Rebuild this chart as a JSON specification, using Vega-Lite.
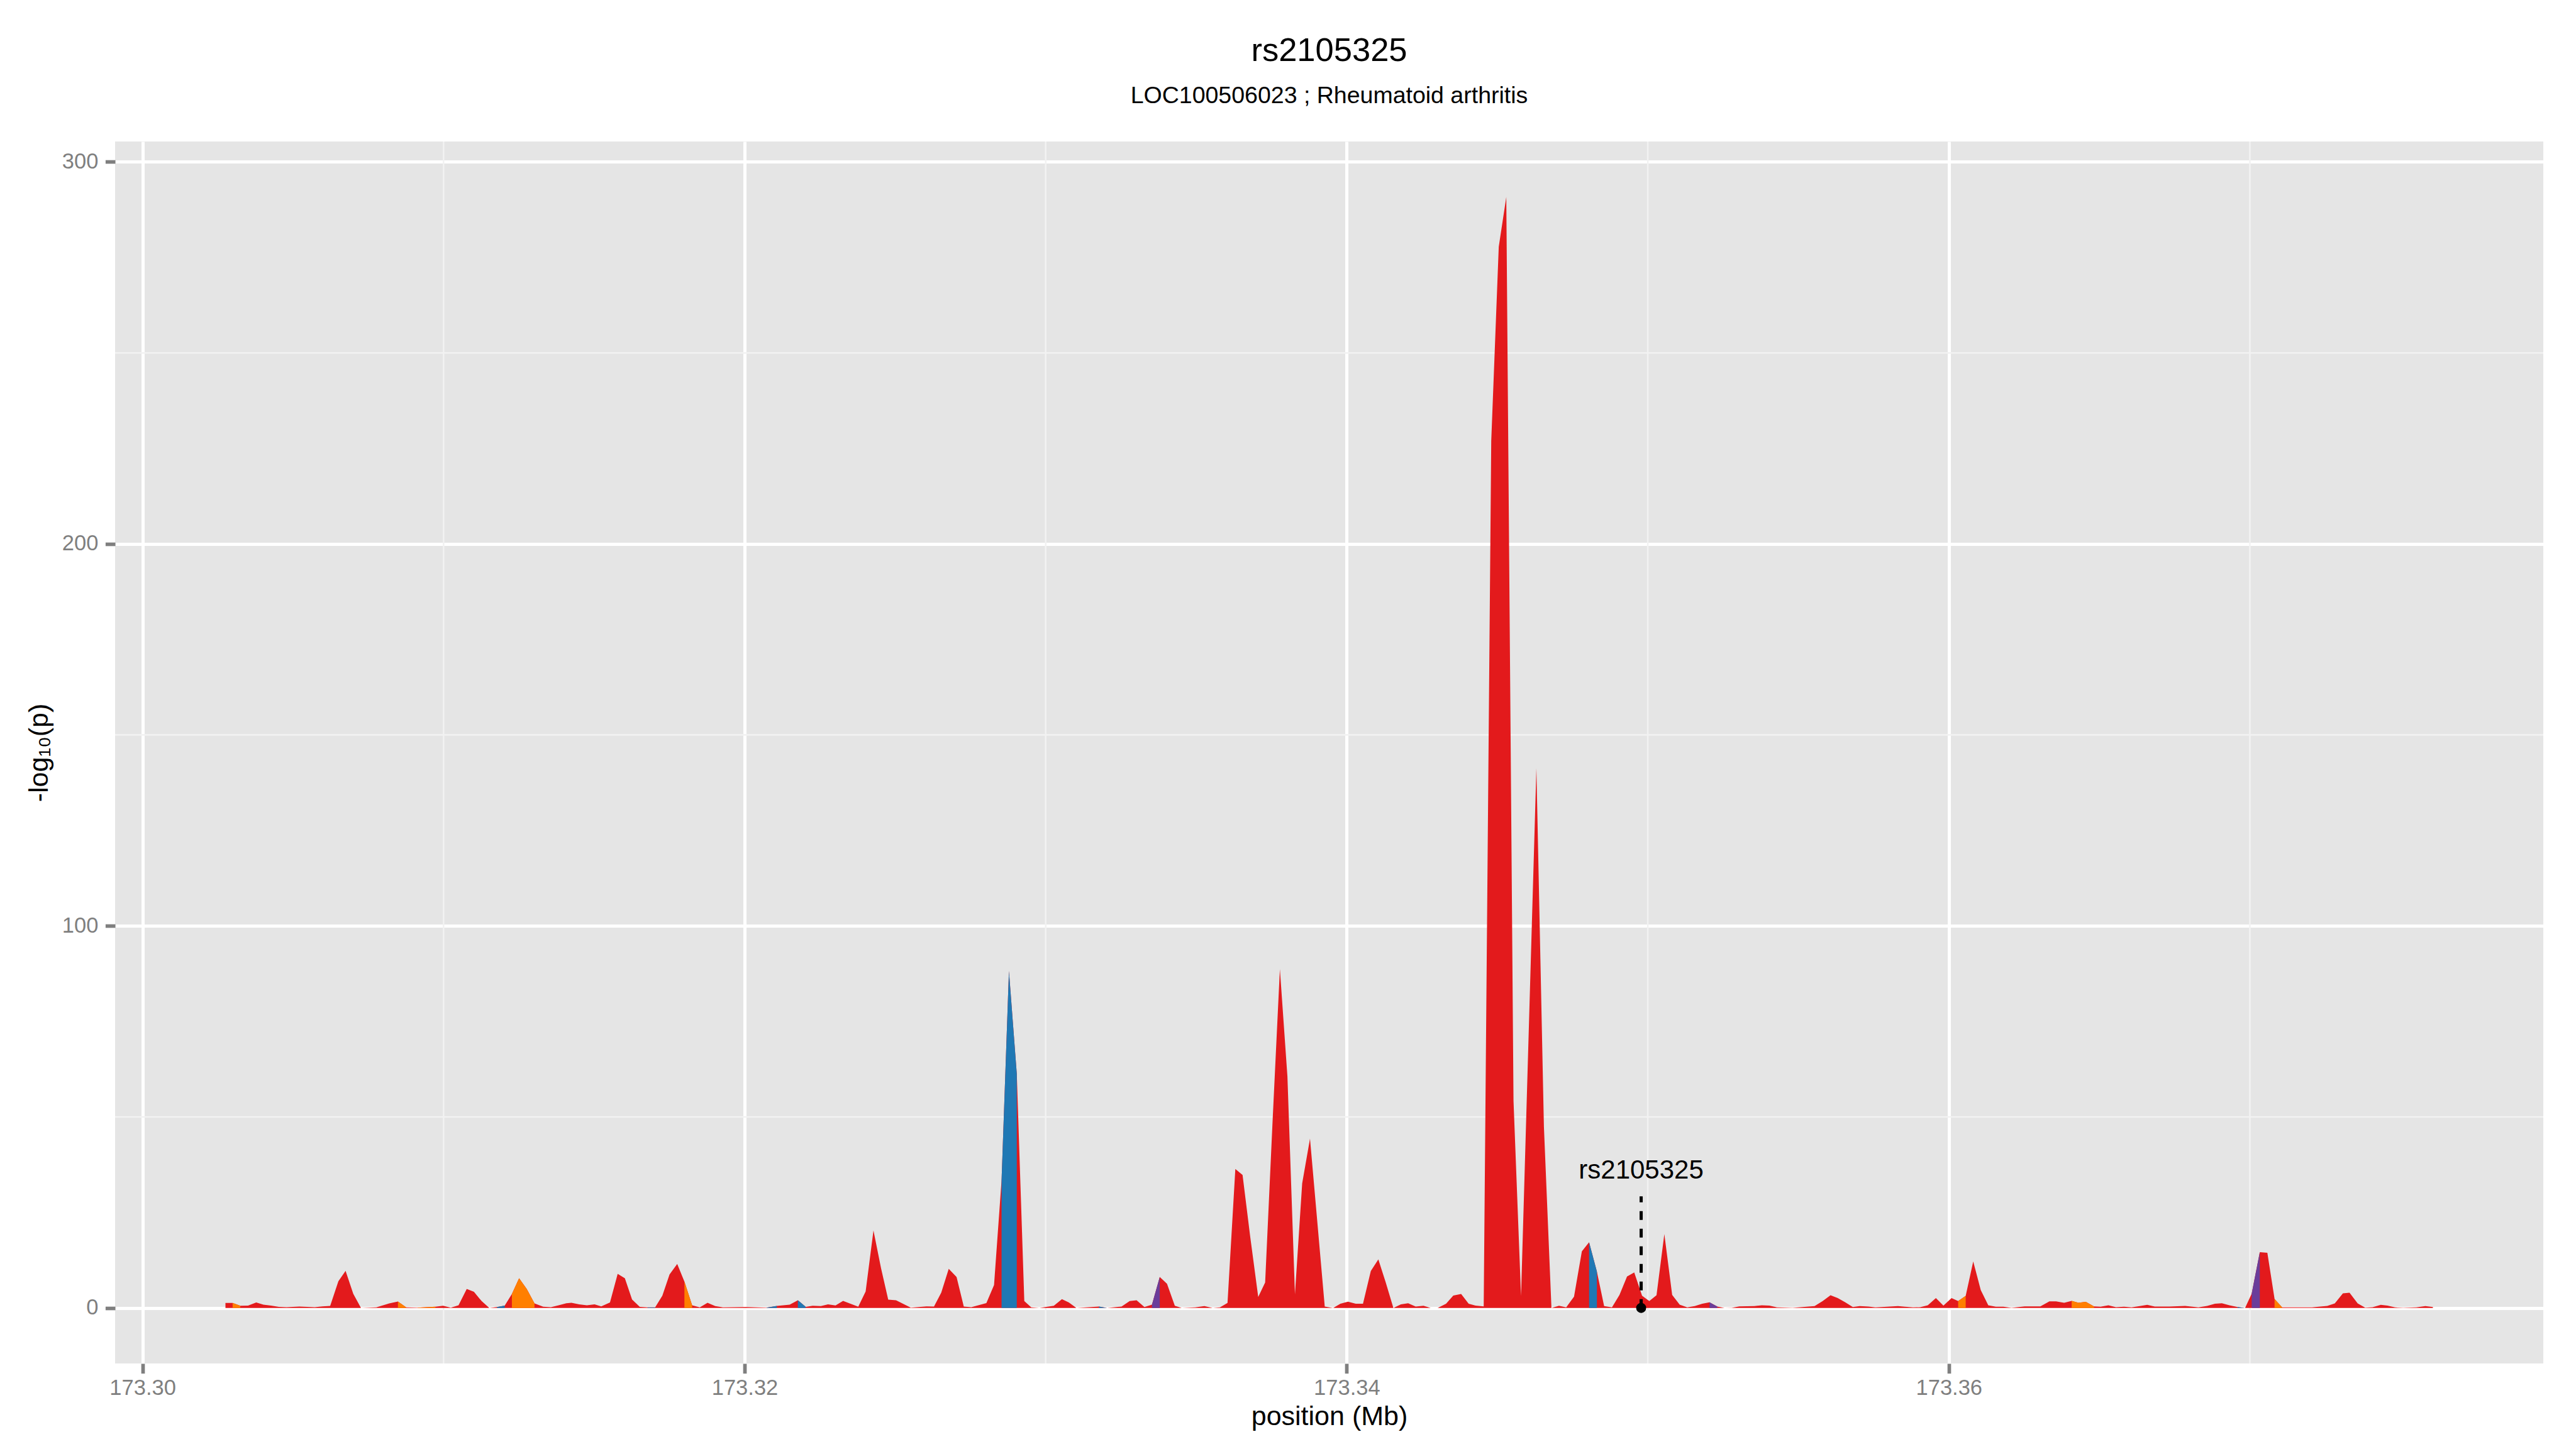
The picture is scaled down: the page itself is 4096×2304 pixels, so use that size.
{
  "$schema": "https://vega.github.io/schema/vega-lite/v6.json",
  "width": 3861,
  "height": 1943,
  "autosize": {"type": "none"},
  "padding": {"left": 183, "top": 225, "right": 52, "bottom": 136},
  "background": "white",
  "title": {
    "text": "rs2105325",
    "subtitle": "LOC100506023 ; Rheumatoid arthritis",
    "anchor": "middle",
    "frame": "group",
    "font": "Liberation Sans",
    "subtitleFont": "Liberation Sans",
    "fontSize": 52.5,
    "subtitleFontSize": 37.5,
    "fontWeight": "normal",
    "color": "black",
    "subtitleColor": "black",
    "offset": 51,
    "subtitlePadding": 26
  },
  "config": {
    "view": {"fill": "#E5E5E5", "stroke": null},
    "font": "Liberation Sans",
    "axis": {
      "domain": false,
      "grid": true,
      "gridColor": "#FFFFFF",
      "gridWidth": 5,
      "ticks": true,
      "tickColor": "#7F7F7F",
      "tickWidth": 5.7,
      "tickSize": 15.6,
      "labelColor": "#7F7F7F",
      "labelFont": "Liberation Sans",
      "labelFontSize": 34.5,
      "labelFlush": false,
      "labelOverlap": false,
      "titleFont": "Liberation Sans",
      "titleFontSize": 43,
      "titleFontWeight": "normal",
      "titleColor": "#000000"
    }
  },
  "datasets": {
    "snps": [
      {"pos": 173.302755, "logp": 1.31}, {"pos": 173.302993, "logp": 1.31}, {"pos": 173.303249, "logp": 0.56}, {"pos": 173.303505, "logp": 0.61},
      {"pos": 173.303778, "logp": 1.41}, {"pos": 173.304017, "logp": 0.84}, {"pos": 173.304272, "logp": 0.61}, {"pos": 173.304528, "logp": 0.28},
      {"pos": 173.304784, "logp": 0.19}, {"pos": 173.30521, "logp": 0.37}, {"pos": 173.305722, "logp": 0.19}, {"pos": 173.305978, "logp": 0.42},
      {"pos": 173.306233, "logp": 0.52}, {"pos": 173.306506, "logp": 6.98}, {"pos": 173.306745, "logp": 9.7}, {"pos": 173.307001, "logp": 3.7},
      {"pos": 173.307257, "logp": 0}, {"pos": 173.307768, "logp": 0.14}, {"pos": 173.308195, "logp": 1.17}, {"pos": 173.308484, "logp": 1.69},
      {"pos": 173.308757, "logp": 0.14}, {"pos": 173.309133, "logp": 0.09}, {"pos": 173.309729, "logp": 0.33}, {"pos": 173.309985, "logp": 0.56},
      {"pos": 173.310241, "logp": 0.09}, {"pos": 173.310497, "logp": 0.7}, {"pos": 173.31077, "logp": 4.97}, {"pos": 173.311008, "logp": 4.22},
      {"pos": 173.311264, "logp": 1.78}, {"pos": 173.31152, "logp": 0}, {"pos": 173.311776, "logp": 0.23}, {"pos": 173.312031, "logp": 0.61},
      {"pos": 173.31227, "logp": 3.66}, {"pos": 173.312509, "logp": 7.78}, {"pos": 173.312765, "logp": 4.92}, {"pos": 173.31302, "logp": 1.17},
      {"pos": 173.31331, "logp": 0.33}, {"pos": 173.313566, "logp": 0.19}, {"pos": 173.313822, "logp": 0.7}, {"pos": 173.314078, "logp": 1.22},
      {"pos": 173.314248, "logp": 1.36}, {"pos": 173.314504, "logp": 0.94}, {"pos": 173.31476, "logp": 0.7}, {"pos": 173.315016, "logp": 0.94},
      {"pos": 173.315237, "logp": 0.42}, {"pos": 173.315527, "logp": 1.41}, {"pos": 173.315783, "logp": 8.9}, {"pos": 173.316022, "logp": 7.78},
      {"pos": 173.316261, "logp": 2.2}, {"pos": 173.316517, "logp": 0.28}, {"pos": 173.316772, "logp": 0.14}, {"pos": 173.317028, "logp": 0.14},
      {"pos": 173.317267, "logp": 3.19}, {"pos": 173.317506, "logp": 8.76}, {"pos": 173.317761, "logp": 11.53}, {"pos": 173.318, "logp": 6.89},
      {"pos": 173.318256, "logp": 0.7}, {"pos": 173.318512, "logp": 0.14}, {"pos": 173.318768, "logp": 1.36}, {"pos": 173.319023, "logp": 0.47},
      {"pos": 173.319279, "logp": 0.14}, {"pos": 173.320046, "logp": 0.23}, {"pos": 173.320728, "logp": 0.09}, {"pos": 173.32107, "logp": 0.52},
      {"pos": 173.321496, "logp": 0.84}, {"pos": 173.321769, "logp": 2.01}, {"pos": 173.32203, "logp": 0.28}, {"pos": 173.32226, "logp": 0.56},
      {"pos": 173.32253, "logp": 0.47}, {"pos": 173.32277, "logp": 0.94}, {"pos": 173.32302, "logp": 0.66}, {"pos": 173.32327, "logp": 1.83},
      {"pos": 173.323775, "logp": 0.33}, {"pos": 173.32402, "logp": 4.31}, {"pos": 173.32428, "logp": 20.29}, {"pos": 173.32453, "logp": 10.45},
      {"pos": 173.32477, "logp": 2.16}, {"pos": 173.32503, "logp": 2.01}, {"pos": 173.32552, "logp": 0.09}, {"pos": 173.32604, "logp": 0.42},
      {"pos": 173.32629, "logp": 0.37}, {"pos": 173.32653, "logp": 3.98}, {"pos": 173.32678, "logp": 10.22}, {"pos": 173.32704, "logp": 8.11},
      {"pos": 173.32728, "logp": 0.37}, {"pos": 173.32753, "logp": 0.19}, {"pos": 173.32803, "logp": 1.27}, {"pos": 173.328285, "logp": 6.0},
      {"pos": 173.328535, "logp": 33.4}, {"pos": 173.32878, "logp": 88.2}, {"pos": 173.32904, "logp": 61.3}, {"pos": 173.32929, "logp": 1.8},
      {"pos": 173.32952, "logp": 0.14}, {"pos": 173.32979, "logp": 0}, {"pos": 173.33027, "logp": 0.57}, {"pos": 173.33054, "logp": 2.3},
      {"pos": 173.33077, "logp": 1.43}, {"pos": 173.33102, "logp": 0}, {"pos": 173.33177, "logp": 0.36}, {"pos": 173.33204, "logp": 0},
      {"pos": 173.33252, "logp": 0.36}, {"pos": 173.33279, "logp": 1.79}, {"pos": 173.33302, "logp": 2.01}, {"pos": 173.33328, "logp": 0.22},
      {"pos": 173.33353, "logp": 0.86}, {"pos": 173.33379, "logp": 8.11}, {"pos": 173.33403, "logp": 6.31}, {"pos": 173.33429, "logp": 0.57},
      {"pos": 173.33452, "logp": 0}, {"pos": 173.33497, "logp": 0.14}, {"pos": 173.33527, "logp": 0.5}, {"pos": 173.33555, "logp": 0},
      {"pos": 173.33579, "logp": 0.14}, {"pos": 173.33604, "logp": 1.29}, {"pos": 173.3363, "logp": 36.37}, {"pos": 173.33654, "logp": 34.79},
      {"pos": 173.33679, "logp": 18.9}, {"pos": 173.33706, "logp": 2.87}, {"pos": 173.33729, "logp": 6.67}, {"pos": 173.33753, "logp": 47.7},
      {"pos": 173.33778, "logp": 88.7}, {"pos": 173.33803, "logp": 60.6}, {"pos": 173.33828, "logp": 3.59}, {"pos": 173.33852, "logp": 32.6},
      {"pos": 173.33878, "logp": 44.3}, {"pos": 173.33903, "logp": 21.9}, {"pos": 173.33927, "logp": 0.36}, {"pos": 173.33955, "logp": 0},
      {"pos": 173.33979, "logp": 1.08}, {"pos": 173.34004, "logp": 1.65}, {"pos": 173.3403, "logp": 1.08}, {"pos": 173.34054, "logp": 1.08},
      {"pos": 173.3408, "logp": 9.68}, {"pos": 173.34105, "logp": 12.7}, {"pos": 173.34129, "logp": 6.81}, {"pos": 173.34155, "logp": 0},
      {"pos": 173.3418, "logp": 0.93}, {"pos": 173.34204, "logp": 1.22}, {"pos": 173.34229, "logp": 0.36}, {"pos": 173.34255, "logp": 0.57},
      {"pos": 173.34279, "logp": 0}, {"pos": 173.34302, "logp": 0}, {"pos": 173.3433, "logp": 1.08}, {"pos": 173.34354, "logp": 3.23},
      {"pos": 173.3438, "logp": 3.66}, {"pos": 173.34405, "logp": 1.08}, {"pos": 173.34428, "logp": 0.6}, {"pos": 173.34455, "logp": 0.4},
      {"pos": 173.3448, "logp": 226.9}, {"pos": 173.34505, "logp": 277.8}, {"pos": 173.3453, "logp": 290.8}, {"pos": 173.34554, "logp": 54.2},
      {"pos": 173.34579, "logp": 3.1}, {"pos": 173.3463, "logp": 141.3}, {"pos": 173.34655, "logp": 47.4}, {"pos": 173.3468, "logp": 0},
      {"pos": 173.34705, "logp": 0.55}, {"pos": 173.34729, "logp": 0.14}, {"pos": 173.34755, "logp": 2.95}, {"pos": 173.34781, "logp": 14.8},
      {"pos": 173.34805, "logp": 17.2}, {"pos": 173.34831, "logp": 9.5}, {"pos": 173.34855, "logp": 0.47}, {"pos": 173.34881, "logp": 0.14},
      {"pos": 173.34906, "logp": 3.42}, {"pos": 173.34931, "logp": 8.2}, {"pos": 173.34955, "logp": 9.28}, {"pos": 173.34981, "logp": 3.19},
      {"pos": 173.35005, "logp": 1.78}, {"pos": 173.35029, "logp": 3.33}, {"pos": 173.35055, "logp": 19.35}, {"pos": 173.35081, "logp": 3.42},
      {"pos": 173.35106, "logp": 0.84}, {"pos": 173.35131, "logp": 0.14}, {"pos": 173.35156, "logp": 0.47}, {"pos": 173.35181, "logp": 1.08},
      {"pos": 173.35205, "logp": 1.45}, {"pos": 173.35231, "logp": 0.37}, {"pos": 173.35255, "logp": 0}, {"pos": 173.35279, "logp": 0.05},
      {"pos": 173.35304, "logp": 0.42}, {"pos": 173.35354, "logp": 0.47}, {"pos": 173.35379, "logp": 0.7}, {"pos": 173.35404, "logp": 0.61},
      {"pos": 173.35429, "logp": 0.14}, {"pos": 173.35481, "logp": 0.05}, {"pos": 173.35554, "logp": 0.47}, {"pos": 173.35581, "logp": 1.78},
      {"pos": 173.35607, "logp": 3.33}, {"pos": 173.35631, "logp": 2.58}, {"pos": 173.35656, "logp": 1.45}, {"pos": 173.35681, "logp": 0.23},
      {"pos": 173.35704, "logp": 0.47}, {"pos": 173.35733, "logp": 0.37}, {"pos": 173.35756, "logp": 0.14}, {"pos": 173.35786, "logp": 0.28},
      {"pos": 173.35831, "logp": 0.47}, {"pos": 173.35854, "logp": 0.33}, {"pos": 173.35881, "logp": 0.14}, {"pos": 173.35905, "logp": 0.19},
      {"pos": 173.3593, "logp": 0.7}, {"pos": 173.35957, "logp": 2.58}, {"pos": 173.35982, "logp": 0.61}, {"pos": 173.36009, "logp": 2.58},
      {"pos": 173.36031, "logp": 1.78}, {"pos": 173.36056, "logp": 3.14}, {"pos": 173.36081, "logp": 12.18}, {"pos": 173.36106, "logp": 4.69},
      {"pos": 173.36131, "logp": 0.7}, {"pos": 173.36156, "logp": 0.33}, {"pos": 173.36181, "logp": 0.33}, {"pos": 173.36208, "logp": 0.05},
      {"pos": 173.36252, "logp": 0.42}, {"pos": 173.36304, "logp": 0.42}, {"pos": 173.36334, "logp": 1.73}, {"pos": 173.36356, "logp": 1.73},
      {"pos": 173.36383, "logp": 1.36}, {"pos": 173.36408, "logp": 1.83}, {"pos": 173.3643, "logp": 1.36}, {"pos": 173.36455, "logp": 1.59},
      {"pos": 173.36482, "logp": 0.42}, {"pos": 173.36504, "logp": 0.33}, {"pos": 173.3653, "logp": 0.7}, {"pos": 173.36555, "logp": 0.19},
      {"pos": 173.36582, "logp": 0.33}, {"pos": 173.36607, "logp": 0.14}, {"pos": 173.36634, "logp": 0.47}, {"pos": 173.36659, "logp": 0.8},
      {"pos": 173.36684, "logp": 0.37}, {"pos": 173.36733, "logp": 0.37}, {"pos": 173.36785, "logp": 0.52}, {"pos": 173.36829, "logp": 0.14},
      {"pos": 173.36858, "logp": 0.52}, {"pos": 173.36884, "logp": 1.08}, {"pos": 173.36907, "logp": 1.22}, {"pos": 173.36932, "logp": 0.7},
      {"pos": 173.36959, "logp": 0.23}, {"pos": 173.36984, "logp": 0}, {"pos": 173.37006, "logp": 3.75}, {"pos": 173.37033, "logp": 14.62},
      {"pos": 173.37058, "logp": 14.43}, {"pos": 173.37082, "logp": 2.34}, {"pos": 173.37107, "logp": 0.14}, {"pos": 173.37132, "logp": 0.14},
      {"pos": 173.37206, "logp": 0.14}, {"pos": 173.37257, "logp": 0.52}, {"pos": 173.37282, "logp": 1.17}, {"pos": 173.37309, "logp": 3.8},
      {"pos": 173.37331, "logp": 3.98}, {"pos": 173.37358, "logp": 1.17}, {"pos": 173.37383, "logp": 0.09}, {"pos": 173.37408, "logp": 0.19},
      {"pos": 173.37435, "logp": 0.8}, {"pos": 173.37457, "logp": 0.61}, {"pos": 173.37482, "logp": 0.14}, {"pos": 173.37509, "logp": 0.05},
      {"pos": 173.37553, "logp": 0.14}, {"pos": 173.37583, "logp": 0.47}, {"pos": 173.37608, "logp": 0.23}
    ],
    "ld": [
      {"seg": 1, "cat": "orange", "pos": 173.302993, "logp": 1.31}, {"seg": 1, "cat": "orange", "pos": 173.303249, "logp": 0.56},
      {"seg": 2, "cat": "orange", "pos": 173.308484, "logp": 1.69}, {"seg": 2, "cat": "orange", "pos": 173.308757, "logp": 0.14},
      {"seg": 3, "cat": "orange", "pos": 173.309133, "logp": 0.09}, {"seg": 3, "cat": "orange", "pos": 173.309729, "logp": 0.33},
      {"seg": 4, "cat": "blue", "pos": 173.311776, "logp": 0.23}, {"seg": 4, "cat": "blue", "pos": 173.312031, "logp": 0.61},
      {"seg": 5, "cat": "orange", "pos": 173.31227, "logp": 3.66}, {"seg": 5, "cat": "orange", "pos": 173.312509, "logp": 7.78},
      {"seg": 5, "cat": "orange", "pos": 173.312765, "logp": 4.92}, {"seg": 5, "cat": "orange", "pos": 173.31302, "logp": 1.17},
      {"seg": 6, "cat": "blue", "pos": 173.316772, "logp": 0.14}, {"seg": 6, "cat": "blue", "pos": 173.317028, "logp": 0.14},
      {"seg": 7, "cat": "orange", "pos": 173.318, "logp": 6.89}, {"seg": 7, "cat": "orange", "pos": 173.318256, "logp": 0.7},
      {"seg": 8, "cat": "blue", "pos": 173.320728, "logp": 0.09}, {"seg": 8, "cat": "blue", "pos": 173.32107, "logp": 0.52},
      {"seg": 9, "cat": "blue", "pos": 173.321769, "logp": 2.01}, {"seg": 9, "cat": "blue", "pos": 173.32203, "logp": 0.28},
      {"seg": 10, "cat": "blue", "pos": 173.328535, "logp": 33.4}, {"seg": 10, "cat": "blue", "pos": 173.32878, "logp": 88.2},
      {"seg": 10, "cat": "blue", "pos": 173.32904, "logp": 61.3},
      {"seg": 11, "cat": "blue", "pos": 173.33177, "logp": 0.36}, {"seg": 11, "cat": "blue", "pos": 173.33204, "logp": 0},
      {"seg": 12, "cat": "purple", "pos": 173.33353, "logp": 0.86}, {"seg": 12, "cat": "purple", "pos": 173.33379, "logp": 8.11},
      {"seg": 13, "cat": "blue", "pos": 173.34805, "logp": 17.2}, {"seg": 13, "cat": "blue", "pos": 173.34831, "logp": 9.5},
      {"seg": 14, "cat": "purple", "pos": 173.35205, "logp": 1.45}, {"seg": 14, "cat": "purple", "pos": 173.35231, "logp": 0.37},
      {"seg": 15, "cat": "orange", "pos": 173.36031, "logp": 1.78}, {"seg": 15, "cat": "orange", "pos": 173.36056, "logp": 3.14},
      {"seg": 16, "cat": "orange", "pos": 173.36408, "logp": 1.83}, {"seg": 16, "cat": "orange", "pos": 173.3643, "logp": 1.36},
      {"seg": 16, "cat": "orange", "pos": 173.36455, "logp": 1.59}, {"seg": 16, "cat": "orange", "pos": 173.36482, "logp": 0.42},
      {"seg": 17, "cat": "blue", "pos": 173.36959, "logp": 0.23}, {"seg": 17, "cat": "blue", "pos": 173.36984, "logp": 0},
      {"seg": 18, "cat": "purple", "pos": 173.37006, "logp": 3.75}, {"seg": 18, "cat": "purple", "pos": 173.37033, "logp": 14.62},
      {"seg": 19, "cat": "orange", "pos": 173.37082, "logp": 2.34}, {"seg": 19, "cat": "orange", "pos": 173.37107, "logp": 0.14}
    ],
    "minorx": [{"pos": 173.31}, {"pos": 173.33}, {"pos": 173.35}, {"pos": 173.37}],
    "minory": [{"logp": 50}, {"logp": 150}, {"logp": 250}],
    "hit": [{"pos": 173.34978, "logp": 0, "top": 29.2, "labely": 33.9, "label": "rs2105325"}]
  },
  "layer": [
    {
      "data": {"name": "minorx"},
      "mark": {"type": "rule", "color": "#F2F2F2", "strokeWidth": 2.5},
      "encoding": {
        "x": {"field": "pos", "type": "quantitative"}
      }
    },
    {
      "data": {"name": "minory"},
      "mark": {"type": "rule", "color": "#F2F2F2", "strokeWidth": 2.5},
      "encoding": {
        "y": {"field": "logp", "type": "quantitative"}
      }
    },
    {
      "data": {"name": "snps"},
      "mark": {"type": "area", "color": "#E31A1C", "interpolate": "linear"},
      "encoding": {
        "x": {
          "field": "pos",
          "type": "quantitative",
          "scale": {"domain": [173.299089, 173.379746], "nice": false, "zero": false},
          "axis": {
            "values": [173.30, 173.32, 173.34, 173.36],
            "format": ".2f",
            "title": "position (Mb)",
            "labelPadding": 7,
            "titleX": 1930.5,
            "titleY": 97,
            "titleBaseline": "alphabetic",
            "titleAlign": "center",
            "titleAnchor": null
          }
        },
        "y": {
          "field": "logp",
          "type": "quantitative",
          "stack": null,
          "scale": {"domain": [-14.54, 305.34], "nice": false, "zero": false},
          "axis": {
            "values": [0, 100, 200, 300],
            "title": "-log₁₀(p)",
            "labelPadding": 11.5,
            "titleX": -108,
            "titleY": 971.5,
            "titleAngle": -90,
            "titleBaseline": "alphabetic",
            "titleAlign": "center",
            "titleAnchor": null
          }
        },
        "y2": {"datum": 0}
      }
    },
    {
      "data": {"name": "ld"},
      "mark": {"type": "area", "interpolate": "linear"},
      "encoding": {
        "x": {"field": "pos", "type": "quantitative"},
        "y": {"field": "logp", "type": "quantitative", "stack": null},
        "y2": {"datum": 0},
        "detail": {"field": "seg", "type": "nominal"},
        "color": {
          "field": "cat",
          "type": "nominal",
          "scale": {"domain": ["blue", "orange", "purple"], "range": ["#1F78B4", "#FF7F00", "#6A3D9A"]},
          "legend": null
        }
      }
    },
    {
      "data": {"name": "hit"},
      "mark": {"type": "rule", "color": "#000000", "strokeWidth": 5, "strokeDash": [14, 14]},
      "encoding": {
        "x": {"field": "pos", "type": "quantitative"},
        "y": {"field": "logp", "type": "quantitative"},
        "y2": {"field": "top"}
      }
    },
    {
      "data": {"name": "hit"},
      "mark": {"type": "circle", "color": "#000000", "opacity": 1, "size": 254},
      "encoding": {
        "x": {"field": "pos", "type": "quantitative"},
        "y": {"field": "logp", "type": "quantitative"}
      }
    },
    {
      "data": {"name": "hit"},
      "mark": {"type": "text", "color": "#000000", "fontSize": 42, "font": "Liberation Sans", "align": "center", "baseline": "alphabetic"},
      "encoding": {
        "x": {"field": "pos", "type": "quantitative"},
        "y": {"field": "labely", "type": "quantitative"},
        "text": {"field": "label"}
      }
    }
  ]
}
